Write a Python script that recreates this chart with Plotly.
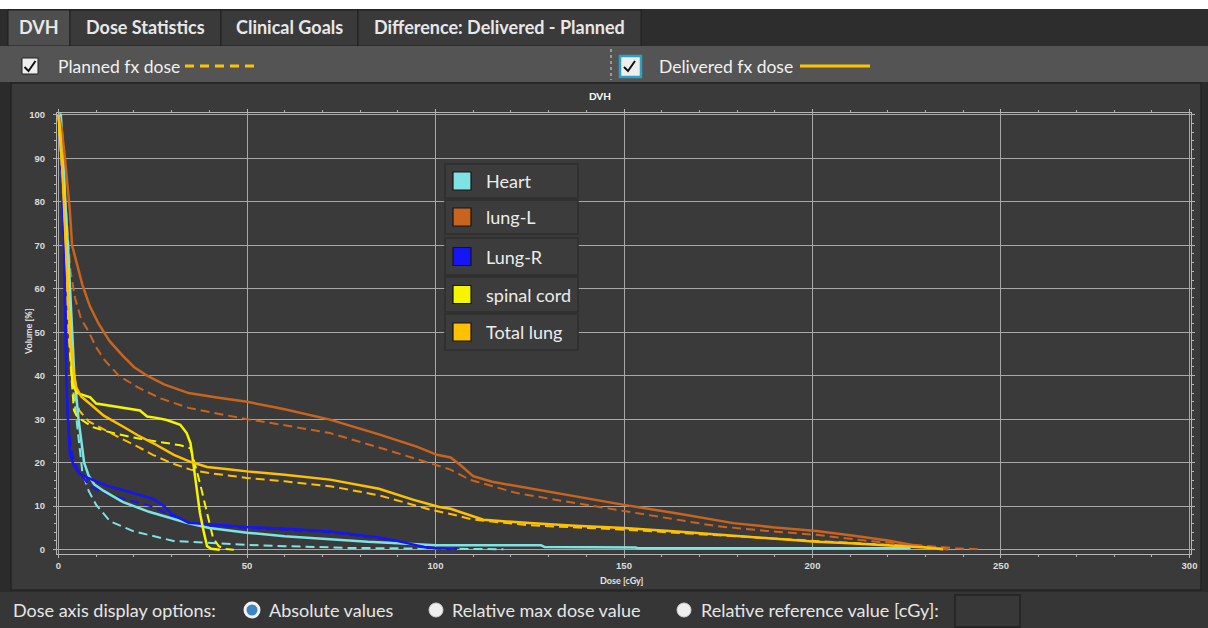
import plotly.graph_objects as go

# ---------------------------------------------------------------- data
# Dose-volume histograms: dose in cGy, volume in %.
heart_delivered_dose = [0, 0.6, 1.2, 1.8, 2.5, 3.0, 3.5, 4.2, 5.3, 6.8, 8, 9.5, 12, 17, 24, 30, 34, 40, 50, 60, 72, 82, 90, 96, 100, 128, 129, 153, 154, 226]
heart_delivered_vol = [100, 100, 92, 80, 70, 60, 50, 40, 30, 20, 17, 15, 13.5, 11, 8.7, 7.2, 6.2, 5.0, 3.9, 3.1, 2.3, 1.8, 1.5, 1.1, 1.0, 1.0, 0.6, 0.5, 0.3, 0.3]
heart_planned_dose = [0, 0.5, 1.0, 1.6, 2.2, 2.8, 3.3, 4.0, 5.0, 6.3, 8, 10, 13.7, 20, 30.5, 40, 50, 60, 77, 90, 100, 118]
heart_planned_vol = [100, 100, 92, 80, 68, 55, 45, 36, 28, 18, 13.5, 10.3, 6.5, 4.2, 2.0, 1.5, 1.1, 0.8, 0.4, 0.3, 0.2, 0.1]

lungL_delivered_dose = [0, 0.8, 1.6, 2.3, 3.0, 3.6, 5.0, 6.3, 8.3, 10.6, 13.5, 17, 20, 23.5, 28, 34.5, 42, 50, 60, 72, 85, 95, 100.4, 104, 106.5, 110, 115, 121.6, 135, 150, 165, 179, 190, 201, 210, 220, 227.5, 232, 236]
lungL_delivered_vol = [100, 97, 91, 85, 78, 70, 65, 61, 56, 52, 48, 44.6, 42, 40, 38, 36, 35, 34.0, 32.3, 29.9, 26.5, 23.7, 21.8, 21.2, 19.5, 16.9, 15.6, 14.6, 12.5, 10.3, 8.2, 6.1, 5.1, 4.3, 3.3, 2.1, 0.9, 0.3, 0.1]
lungL_planned_dose = [0, 0.6, 1.2, 1.8, 2.5, 3.2, 4.4, 6, 7.9, 10, 12.3, 16, 21.1, 27, 34.5, 42, 50, 60, 72, 85, 100.4, 104, 109, 115, 121.6, 135, 148, 160, 174.6, 188, 201, 215, 230, 238, 244]
lungL_planned_vol = [100, 96, 88, 80, 72, 64, 57.8, 53, 50.3, 46.5, 43.5, 40, 37.3, 34.8, 32.6, 31.3, 30.0, 28.6, 26.8, 23.5, 19.5, 18.4, 16.1, 14.6, 13.0, 11.0, 9.2, 7.5, 5.4, 4.3, 3.4, 2.0, 0.8, 0.3, 0.1]

lungR_delivered_dose = [0, 0.4, 0.8, 1.2, 1.5, 1.8, 2.1, 2.5, 3.0, 4.0, 5.5, 7.0, 9.3, 12.8, 18, 25, 28, 30, 34.5, 40, 50, 60, 72, 85, 90, 94.5, 97, 100, 105.7]
lungR_delivered_vol = [100, 97, 90, 80, 70, 55, 40, 30, 22, 19.5, 17.5, 16.8, 16, 14.7, 13.5, 11.7, 10, 8.2, 6.2, 5.8, 5.2, 4.8, 4.2, 2.8, 2.0, 1.1, 0.6, 0.3, 0.2]
lungR_planned_dose = [0, 0.3, 0.7, 1.1, 1.4, 1.8, 2.2, 2.8, 3.6, 5, 8.3, 14, 20, 25, 30, 35, 40, 50, 60, 72, 85, 92, 96, 100, 104]
lungR_planned_vol = [100, 97, 90, 80, 68, 50, 35, 27, 22, 18.5, 14.5, 12.5, 11, 9.9, 7.8, 6.0, 5.6, 5.0, 4.6, 4.0, 2.6, 1.4, 0.6, 0.3, 0.1]

cord_delivered_dose = [0, 0.5, 1.0, 1.5, 2.0, 2.7, 3.7, 5, 6.5, 8.4, 10, 13, 17, 21.6, 23.5, 26, 28.7, 32.3, 34, 35, 35.4, 36, 36.7, 37.5, 38.5, 39.4, 40.5, 42.8]
cord_delivered_vol = [100, 95, 88, 80, 70, 55, 38, 36, 35.5, 35, 33.6, 33.2, 32.5, 32, 30.6, 30.3, 29.8, 28.7, 26.8, 24.5, 22.2, 18, 13, 8.5, 4.2, 0.8, 0.2, 0]
cord_planned_dose = [0, 0.4, 0.9, 1.4, 2.0, 2.7, 3.4, 4.1, 5, 6.7, 9, 12.8, 16, 21.6, 27, 32.3, 35, 35.8, 36.7, 37.6, 38.5, 39.8, 41, 42.5, 44, 46.5]
cord_planned_vol = [100, 95, 88, 78, 65, 50, 40, 32, 30.5, 29.5, 28.2, 27.2, 26.5, 25.5, 24.8, 24, 23.3, 21, 18, 15, 12, 7, 2.7, 0.8, 0.2, 0]

totlung_delivered_dose = [0, 0.5, 1.0, 1.6, 2.2, 3.0, 4.0, 4.7, 6, 8.4, 12, 17.3, 21, 25.3, 30.6, 35, 39.4, 45, 50, 60, 72, 85, 94, 101, 104, 112.7, 125, 137, 150, 165, 180, 201, 210, 223, 230, 234.6]
totlung_delivered_vol = [100, 96, 88, 78, 65, 50, 41, 37.3, 35.2, 33.5, 30.8, 28.2, 26.3, 24.4, 21.8, 20.2, 19.0, 18.5, 18.0, 17.2, 16.1, 14.0, 11.5, 9.8, 9.4, 6.9, 6.1, 5.5, 5.0, 4.1, 3.2, 1.8, 1.5, 0.9, 0.5, 0.1]
totlung_planned_dose = [0, 0.4, 0.9, 1.4, 2.0, 2.8, 3.6, 4.5, 5.5, 8, 12.3, 16, 21, 25, 30, 35, 40, 50, 60, 72, 85, 98.6, 104, 110, 125, 150, 175, 201, 215, 228, 236]
totlung_planned_vol = [100, 95, 86, 75, 62, 50, 41, 35, 32, 29.5, 27.5, 25.8, 23.7, 21.8, 19.9, 18.4, 17.6, 16.5, 15.7, 14.6, 12.5, 9.2, 8.2, 6.9, 5.6, 4.6, 3.3, 1.9, 1.3, 0.7, 0.1]

structure_names = ["Heart", "lung-L", "Lung-R", "spinal cord", "Total lung"]
structure_colors = ["#7fe3e3", "#c8641e", "#1515f5", "#f5f500", "#ffc000"]

tab_labels = ["DVH", "Dose Statistics", "Clinical Goals", "Difference: Delivered - Planned"]
x_ticks = [0, 50, 100, 150, 200, 250, 300]
y_ticks = [0, 10, 20, 30, 40, 50, 60, 70, 80, 90, 100]

delivered = [
    (heart_delivered_dose, heart_delivered_vol),
    (lungL_delivered_dose, lungL_delivered_vol),
    (lungR_delivered_dose, lungR_delivered_vol),
    (cord_delivered_dose, cord_delivered_vol),
    (totlung_delivered_dose, totlung_delivered_vol),
]
planned = [
    (heart_planned_dose, heart_planned_vol),
    (lungL_planned_dose, lungL_planned_vol),
    (lungR_planned_dose, lungR_planned_vol),
    (cord_planned_dose, cord_planned_vol),
    (totlung_planned_dose, totlung_planned_vol),
]

# ---------------------------------------------------------------- layout geometry
W, H = 1208, 628
ML, MR, MT, MB = 57, 17, 113, 74
FONT = "Lato"


def fx(px):
    return (px - ML) / (W - ML - MR)


def fy(py):
    return (H - MB - py) / (H - MT - MB)


shapes = []
annotations = []


def rect(x0, y0, x1, y1, fill, line="rgba(0,0,0,0)", width=0, layer="below"):
    shapes.append(dict(type="rect", xref="paper", yref="paper",
                       x0=fx(x0), x1=fx(x1), y0=fy(y1), y1=fy(y0),
                       fillcolor=fill, line=dict(color=line, width=width), layer=layer))


def hline(x0, x1, y, color, width=1, dash="solid", layer="below"):
    shapes.append(dict(type="line", xref="paper", yref="paper",
                       x0=fx(x0), x1=fx(x1), y0=fy(y), y1=fy(y),
                       line=dict(color=color, width=width, dash=dash), layer=layer))


def vline(x, y0, y1, color, width=1, dash="solid", layer="below"):
    shapes.append(dict(type="line", xref="paper", yref="paper",
                       x0=fx(x), x1=fx(x), y0=fy(y0), y1=fy(y1),
                       line=dict(color=color, width=width, dash=dash), layer=layer))


def circle(cx, cy, r, fill, line, width=1):
    shapes.append(dict(type="circle", xref="paper", yref="paper",
                       x0=fx(cx - r), x1=fx(cx + r), y0=fy(cy + r), y1=fy(cy - r),
                       fillcolor=fill, line=dict(color=line, width=width), layer="above"))


def check(x0, y0, color, width=2):
    pts = [(x0, y0 + 7), (x0 + 4, y0 + 11), (x0 + 11, y0 + 1)]
    path = "M " + " L ".join(f"{fx(a):.5f},{fy(b):.5f}" for a, b in pts)
    shapes.append(dict(type="path", xref="paper", yref="paper", path=path,
                       line=dict(color=color, width=width), layer="above"))


def text(x, y, s, size=18, color="#e6e6e6", anchor="left", weight="normal", angle=0):
    annotations.append(dict(x=fx(x), y=fy(y), xref="paper", yref="paper", text=s,
                            showarrow=False, xanchor=anchor, yanchor="middle", textangle=angle,
                            font=dict(family=FONT, size=size, color=color, weight=weight)))


# white strip on top and dark header row
rect(0, 0, W, 9, "#ffffff")
rect(0, 9, W, 46, "#2d2d2d")

# tabs
tab_edges = [8, 70, 221, 358, 641]
for i, lab in enumerate(tab_labels):
    x0, x1 = tab_edges[i], tab_edges[i + 1]
    rect(x0, 10, x1, 46, "#4e4e4e" if i == 0 else "#3a3a3a", "#1f1f1f", 1)
    text((x0 + x1) / 2, 27, lab, size=18, color="#e8e8e8", anchor="center", weight="bold")

# option row with the two line-style checkboxes
rect(0, 46, W, 82, "#545454")
rect(22, 58, 38, 74, "#eeeeee", "#222222", 1, layer="above")
check(24.5, 60, "#111111")
text(56, 66, "Planned fx dose", size=17.5, color="#f0f0f0")
hline(185, 258, 66, "#ffc400", width=3, dash="9px,6px")
vline(611, 49, 80, "#9a9a9a", width=2, dash="dot")
rect(620, 56, 641, 77, "#eeeeee", "#2fa0c4", 2.5, layer="above")
check(624, 60, "#111111")
text(657, 66, "Delivered fx dose", size=17.5, color="#f0f0f0")
hline(800, 870, 66, "#ffc400", width=3)

# chart panel
rect(0, 82, W, 592, "#2b2b2b")
rect(11, 83, 1201, 590, "#3a3a3a", "#242424", 1.5)
text(600, 96, "DVH", size=10, color="#ffffff", anchor="center", weight="bold")
text(622, 580, "Dose [cGy]", size=9, color="#e6e6e6", anchor="center", weight="bold")
text(28, 332, "Volume [%]", size=9, color="#e6e6e6", anchor="center", weight="bold", angle=-90)

# bottom option bar
rect(0, 592, W, H, "#363636")
text(11, 610, "Dose axis display options:", size=18, color="#e6e6e6")
circle(252, 610, 7, "#3d86c6", "#f2f2f2", 3)
text(267, 610, "Absolute values", size=18, color="#e6e6e6")
circle(436, 610, 7, "#efefef", "#cfcfcf", 1)
text(450, 610, "Relative max dose value", size=18, color="#e6e6e6")
circle(684, 610, 7, "#efefef", "#cfcfcf", 1)
text(699, 610, "Relative reference value [cGy]:", size=18, color="#e6e6e6")
rect(955, 595, 1020, 627, "#383838", "#222222", 1.5, layer="above")

# structure legend drawn over the plot
legend_rows = [(164, 198), (200, 234), (238, 275), (277, 312), (314, 350)]
for (y0, y1), name, col in zip(legend_rows, structure_names, structure_colors):
    rect(445, y0, 578, y1, "#3c3c3c", "#2e2e2e", 1.5, layer="above")
    cy = (y0 + y1) / 2
    rect(453, cy - 9, 471, cy + 9, col, "#151515", 1.2, layer="above")
    text(484, cy, name, size=18, color="#ececec")

# ---------------------------------------------------------------- traces
fig = go.Figure()
for (d, v), name, col in zip(planned, structure_names, structure_colors):
    fig.add_trace(go.Scatter(x=d, y=v, mode="lines", name=name + " (planned)",
                             line=dict(color=col, width=2, dash="9px,5px")))
for (d, v), name, col in zip(delivered, structure_names, structure_colors):
    fig.add_trace(go.Scatter(x=d, y=v, mode="lines", name=name,
                             line=dict(color=col, width=2.5)))

axis_common = dict(
    showgrid=True, gridcolor="#a8a8a8", gridwidth=1, zeroline=False,
    showline=True, linecolor="#b5b5b5", linewidth=1, mirror="allticks",
    ticks="outside", ticklen=3, tickcolor="#b5b5b5",
    tickfont=dict(family="Liberation Sans", size=9.5, color="#dddddd", weight="bold"),
)
fig.update_xaxes(range=[-0.4, 300.4], tickvals=x_ticks,
                 minor=dict(dtick=10, ticks="outside", ticklen=2, tickcolor="#b5b5b5", showgrid=False),
                 **axis_common)
fig.update_yaxes(range=[-1.0, 100.4], tickvals=y_ticks, ticklabelstandoff=6,
                 minor=dict(dtick=2, ticks="outside", ticklen=2, tickcolor="#b5b5b5", showgrid=False),
                 **axis_common)

fig.update_layout(
    width=W, height=H,
    margin=dict(l=ML, r=MR, t=MT, b=MB, pad=0),
    paper_bgcolor="#2e2e2e", plot_bgcolor="#404040",
    showlegend=False,
    shapes=shapes, annotations=annotations,
)

fig.write_html("out.html")
